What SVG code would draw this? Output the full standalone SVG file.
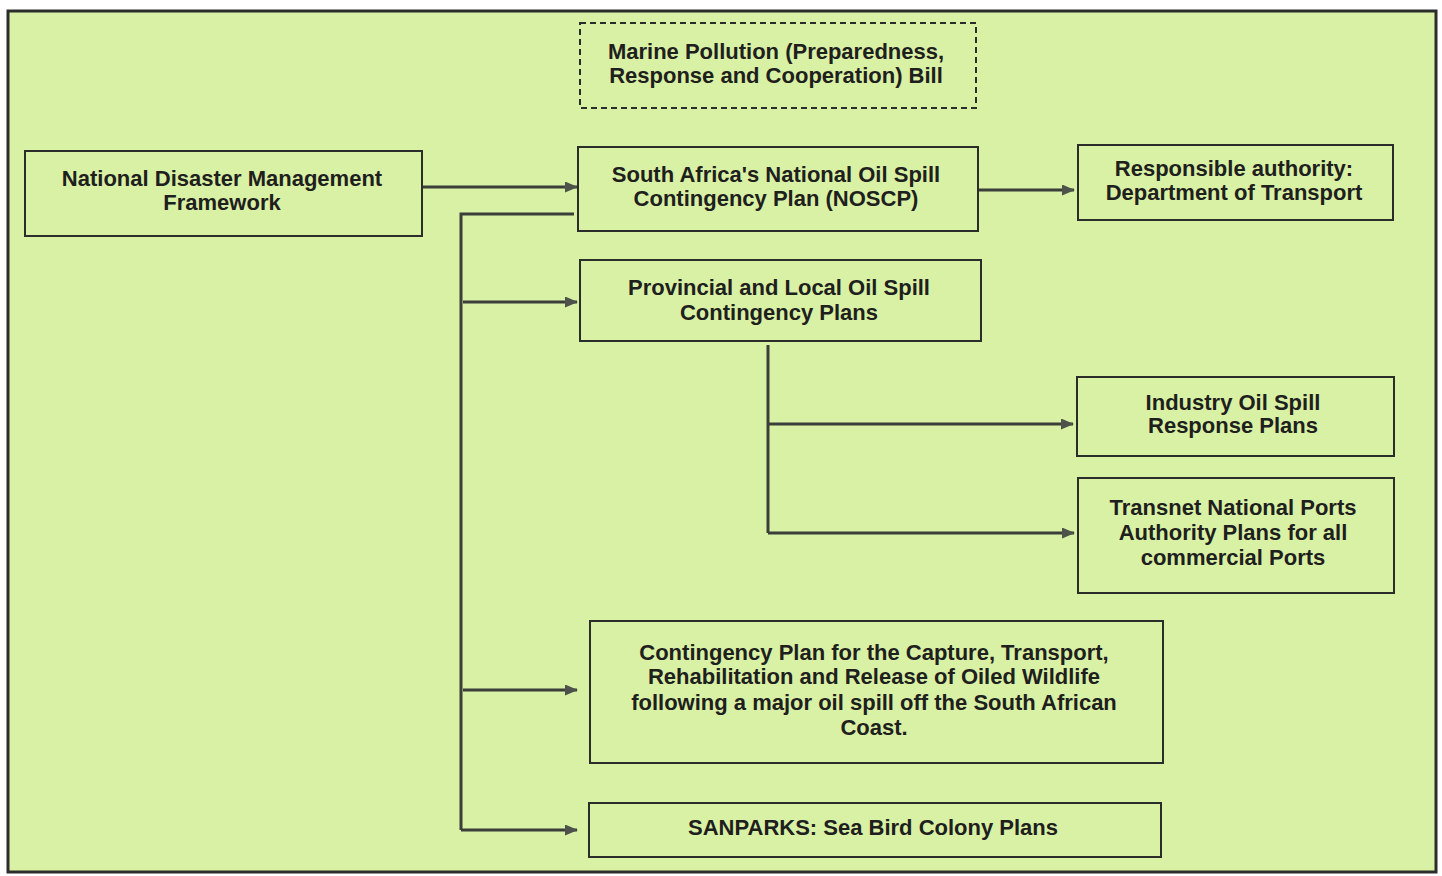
<svg xmlns="http://www.w3.org/2000/svg" width="1442" height="876" viewBox="0 0 1442 876">
  <defs>
    <marker id="arrow" viewBox="0 0 13 11" refX="12" refY="5.5" markerWidth="13" markerHeight="11" markerUnits="userSpaceOnUse" orient="auto">
      <path d="M0,0 L13,5.5 L0,11 z" fill="#4d524a"/>
    </marker>
    <style>
      .node rect { fill: none; stroke: #2b2d2a; stroke-width: 2; }
      .node rect.dashed { stroke-dasharray: 6 4; }
      .node text { font-family: "Liberation Sans", Arial, sans-serif; font-size: 22px; font-weight: bold; fill: #1e201d; text-anchor: middle; }
      .conn path { fill: none; stroke: #3b3e39; stroke-width: 3; }
      .conn path.arr { marker-end: url(#arrow); }
    </style>
  </defs>

  <!-- page and frame -->
  <rect x="0" y="0" width="1442" height="876" fill="#ffffff"/>
  <rect x="8" y="11" width="1428" height="861" fill="#d9f1a4" stroke="#2b2d2a" stroke-width="3"/>

  <!-- connectors -->
  <g id="connectors" class="conn">
    <path class="arr" d="M422,187 H577"/>
    <path d="M574,214 H461 V830"/>
    <path class="arr" d="M461,830 H577"/>
    <path class="arr" d="M463,302 H577"/>
    <path class="arr" d="M463,690 H577"/>
    <path class="arr" d="M978,190 H1074"/>
    <path d="M768,345 V533"/>
    <path class="arr" d="M768,424 H1073"/>
    <path class="arr" d="M768,533 H1074"/>
  </g>

  <g id="marine-pollution-bill" class="node">
    <rect class="dashed" x="580" y="23" width="396" height="85"/>
    <text x="776" y="59">Marine Pollution (Preparedness,</text>
    <text x="776" y="83">Response and Cooperation) Bill</text>
  </g>

  <g id="ndmf" class="node">
    <rect x="25" y="151" width="397" height="85"/>
    <text x="222" y="186">National Disaster Management</text>
    <text x="222" y="210">Framework</text>
  </g>

  <g id="noscp" class="node">
    <rect x="578" y="147" width="400" height="84"/>
    <text x="776" y="182">South Africa's National Oil Spill</text>
    <text x="776" y="206">Contingency Plan (NOSCP)</text>
  </g>

  <g id="responsible-authority" class="node">
    <rect x="1078" y="145" width="315" height="75"/>
    <text x="1234" y="176">Responsible authority:</text>
    <text x="1234" y="200">Department of Transport</text>
  </g>

  <g id="provincial-local" class="node">
    <rect x="580" y="260" width="401" height="81"/>
    <text x="779" y="295">Provincial and Local Oil Spill</text>
    <text x="779" y="320">Contingency Plans</text>
  </g>

  <g id="industry" class="node">
    <rect x="1077" y="377" width="317" height="79"/>
    <text x="1233" y="410">Industry Oil Spill</text>
    <text x="1233" y="433">Response Plans</text>
  </g>

  <g id="transnet" class="node">
    <rect x="1078" y="478" width="316" height="115"/>
    <text x="1233" y="515">Transnet National Ports</text>
    <text x="1233" y="540">Authority Plans for all</text>
    <text x="1233" y="565">commercial Ports</text>
  </g>

  <g id="oiled-wildlife" class="node">
    <rect x="590" y="621" width="573" height="142"/>
    <text x="874" y="660">Contingency Plan for the Capture, Transport,</text>
    <text x="874" y="684">Rehabilitation and Release of Oiled Wildlife</text>
    <text x="874" y="710">following a major oil spill off the South African</text>
    <text x="874" y="735">Coast.</text>
  </g>

  <g id="sanparks" class="node">
    <rect x="589" y="803" width="572" height="54"/>
    <text x="873" y="835">SANPARKS: Sea Bird Colony Plans</text>
  </g>
</svg>
